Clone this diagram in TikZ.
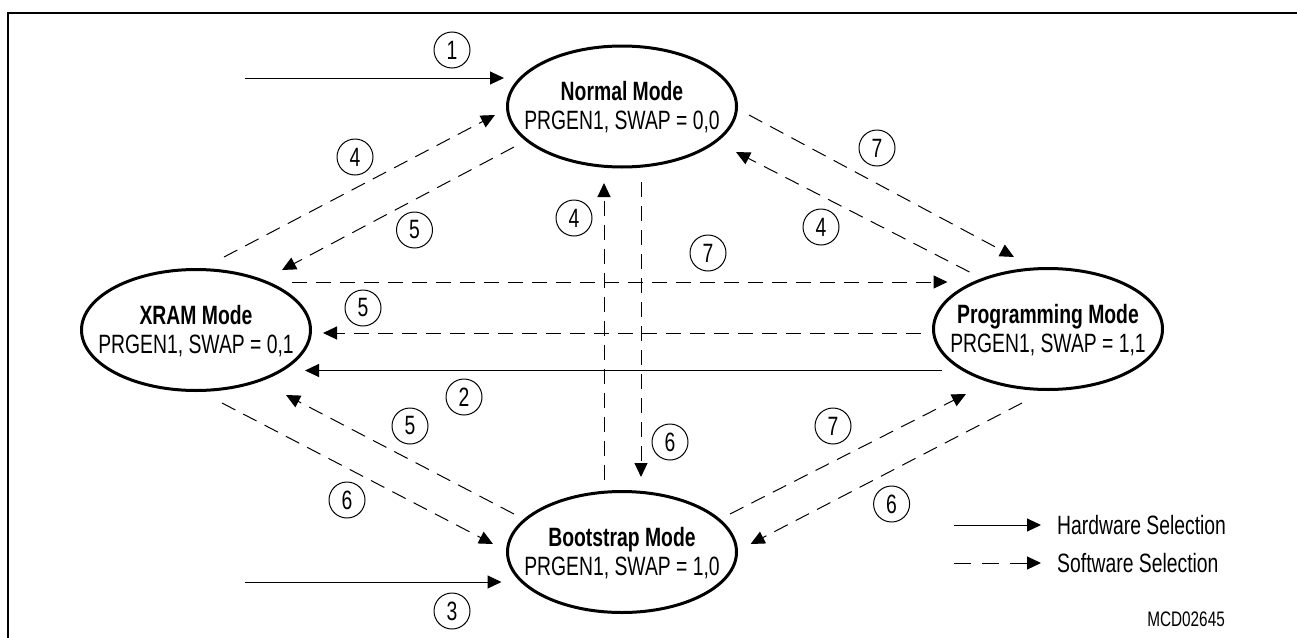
\documentclass[tikz,border=0pt]{standalone}
\usepackage{fontspec}
\setmainfont{Liberation Sans}[FakeStretch=0.73]
\usetikzlibrary{arrows.meta,shapes.geometric,calc}
\begin{document}
\begin{tikzpicture}[x=1pt,y=-1pt,
  mode/.style={ellipse,draw,line width=3pt,minimum width=229pt,minimum height=121pt,inner sep=0pt},
  modetext/.style={align=center,inner sep=0pt,font=\fontsize{26.5}{29}\selectfont},
  num/.style={circle,draw,line width=1pt,minimum size=36pt,inner sep=0pt,font=\fontsize{26.5}{26.5}\selectfont},
  hw/.style={line width=1pt,-{Triangle[length=14pt,width=13pt]}},
  sw/.style={hw,dash pattern=on 15pt off 9pt},
  lbl/.style={anchor=west,inner sep=0pt,font=\fontsize{26.5}{26.5}\selectfont}]
\useasboundingbox (0,0) rectangle (1297,637);
% frame
\draw[line width=2pt] (7.5,640) -- (7.5,12.7) -- (1300,12.7);
% modes
\node[mode] (normal) at (622,106.5) {};
\node[mode] (xram) at (196,330) {};
\node[mode] (prog) at (1048,329) {};
\node[mode] (boot) at (622,552) {};
\node[modetext] (normalt) at ($(normal.center)+(0,1)$) {\textbf{Normal Mode}\\PRGEN1, SWAP = 0,0};
\node[modetext] (xramt) at ($(xram.center)+(0,1)$) {\textbf{XRAM Mode}\\PRGEN1, SWAP = 0,1};
\node[modetext] (progt) at ($(prog.center)+(0,1)$) {\textbf{Programming Mode}\\PRGEN1, SWAP = 1,1};
\node[modetext] (boott) at ($(boot.center)+(0,1)$) {\textbf{Bootstrap Mode}\\PRGEN1, SWAP = 1,0};
% free ends
\coordinate (in1) at (245,78);
\coordinate (in3) at (245,582);
% hardware arrows
\draw[hw] (in1) -- ($(normal.center)+(-118,-28.5)$);
\draw[hw] (in3) -- ($(boot.center)+(-120.5,30)$);
\draw[hw] ($(prog.center)+(-106,41.5)$) -- ($(xram.center)+(109,40.5)$);
% software arrows
\draw[sw] ($(xram.center)+(28,-73)$) -- ($(normal.center)+(-127,8.5)$);
\draw[sw] ($(normal.center)+(-108,40.5)$) -- ($(xram.center)+(86,-60)$);
\draw[sw] ($(normal.center)+(127,8.5)$) -- ($(prog.center)+(-34,-72)$);
\draw[sw] ($(prog.center)+(-78.5,-57)$) -- ($(normal.center)+(114,45.5)$);
\draw[sw] ($(boot.center)+(-18,-72)$) -- ($(normal.center)+(-18,76.5)$);
\draw[sw] ($(normal.center)+(19,75.5)$) -- ($(boot.center)+(19,-75)$);
\draw[sw] ($(xram.center)+(96,-48)$) -- ($(prog.center)+(-100.5,-47)$);
\draw[sw] ($(prog.center)+(-127.5,4)$) -- ($(xram.center)+(127,3)$);
\draw[sw] ($(boot.center)+(-108,-38)$) -- ($(xram.center)+(90,65)$);
\draw[sw] ($(xram.center)+(26,73)$) -- ($(boot.center)+(-129,-8)$);
\draw[sw] ($(boot.center)+(108,-38)$) -- ($(prog.center)+(-82,65)$);
\draw[sw] ($(prog.center)+(-26,74)$) -- ($(boot.center)+(128.6,-8)$);
% numbers
\node[num] (n1) at (452,50) {1};
\node[num] (n4a) at (355,157) {4};
\node[num] (n5a) at (414.5,230) {5};
\node[num] (n4b) at (574,218) {4};
\node[num] (n7a) at (877,148) {7};
\node[num] (n4c) at (821,227) {4};
\node[num] (n7b) at (708,253) {7};
\node[num] (n5b) at (363,308) {5};
\node[num] (n2) at (464,397) {2};
\node[num] (n5c) at (410,426) {5};
\node[num] (n6a) at (347,500) {6};
\node[num] (n6b) at (670,442) {6};
\node[num] (n7c) at (833,426) {7};
\node[num] (n6c) at (891.6,504) {6};
\node[num] (n3) at (452,611) {3};
% legend
\coordinate (lh1) at (954,525);
\coordinate (lh2) at (1041,525);
\coordinate (ls1) at (954,563);
\coordinate (ls2) at (1041,563);
\draw[hw] (lh1) -- (lh2);
\draw[hw,dash pattern=on 17pt off 11pt] (ls1) -- (ls2);
\node[lbl] (lhw) at (1057,525) {Hardware Selection};
\node[lbl] (lsw) at (1057,563) {Software Selection};
\node[anchor=east,inner sep=0pt,font=\fontsize{21}{21}\selectfont] (mcd) at (1225,619) {MCD02645};
\end{tikzpicture}
\end{document}
